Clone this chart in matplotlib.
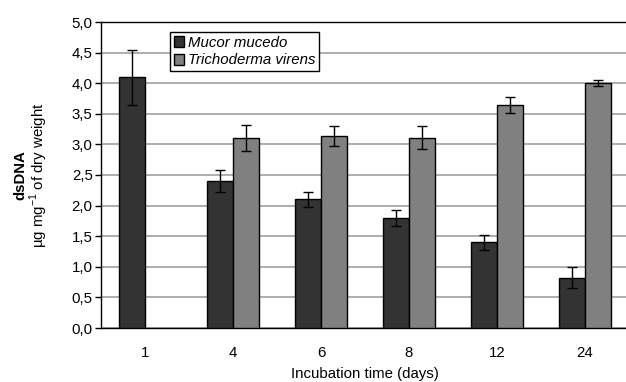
import numpy as np
import matplotlib.pyplot as plt

plt.rcParams['font.family'] = ['Liberation Sans', 'DejaVu Sans']

# data
days = ['1', '4', '6', '8', '12', '24']
mucor = [4.10, 2.40, 2.10, 1.80, 1.40, 0.82]
mucor_err = [0.45, 0.18, 0.13, 0.135, 0.125, 0.17]
tricho = [np.nan, 3.11, 3.14, 3.11, 3.64, 4.01]
tricho_err = [np.nan, 0.21, 0.165, 0.19, 0.13, 0.05]

fs = 10.8
fig = plt.figure(figsize=(6.26, 3.82), dpi=100)
ax = fig.add_axes([101/626, 1-328/382, 528/626, 306/382])

x = np.arange(len(days))
w = 0.295
err_kw = dict(ecolor='black', elinewidth=1, capsize=3.5, capthick=1)
ax.bar(x - w/2, mucor, w, yerr=mucor_err, color='#333333', edgecolor='black',
       linewidth=1, error_kw=err_kw, label='Mucor mucedo', zorder=3)
ax.bar(x + w/2, tricho, w, yerr=tricho_err, color='#808080', edgecolor='black',
       linewidth=1, error_kw=err_kw, label='Trichoderma virens', zorder=3)

ax.set_xlim(-0.5, len(days) - 0.5)
ax.set_ylim(0, 5)
ax.set_yticks(np.arange(0, 5.01, 0.5))
ax.set_yticklabels([('%.1f' % v).replace('.', ',') for v in np.arange(0, 5.01, 0.5)])
ax.set_xticks(x)
ax.set_xticklabels(days)
ax.tick_params(axis='y', length=4, width=1, labelsize=fs, pad=2)
ax.tick_params(axis='x', length=0, labelsize=fs, pad=13)
ax.yaxis.grid(True, color='#a0a0a0', linewidth=1.2, zorder=0)
ax.set_axisbelow(True)
for s in ax.spines.values():
    s.set_linewidth(1)
    s.set_color('black')

ax.set_xlabel('Incubation time (days)', fontsize=fs, labelpad=5)
fig.text(20/626, 1-175/382, 'dsDNA', rotation=90, fontsize=fs, fontweight='bold',
         ha='center', va='center')
fig.text(39/626, 1-175/382, 'µg mg$^{\\mathregular{-1}}$ of dry weight', rotation=90,
         fontsize=fs, ha='center', va='center')

leg = ax.legend(loc='upper left', bbox_to_anchor=(69/528, 1-10/306), fancybox=False,
                edgecolor='black', framealpha=1, handlelength=0.7, handleheight=0.7,
                handletextpad=0.25, borderpad=0.25, labelspacing=0.25, borderaxespad=0,
                prop={'size': fs, 'style': 'italic'})
leg.get_frame().set_linewidth(1)

plt.savefig('out.png', dpi=100)
